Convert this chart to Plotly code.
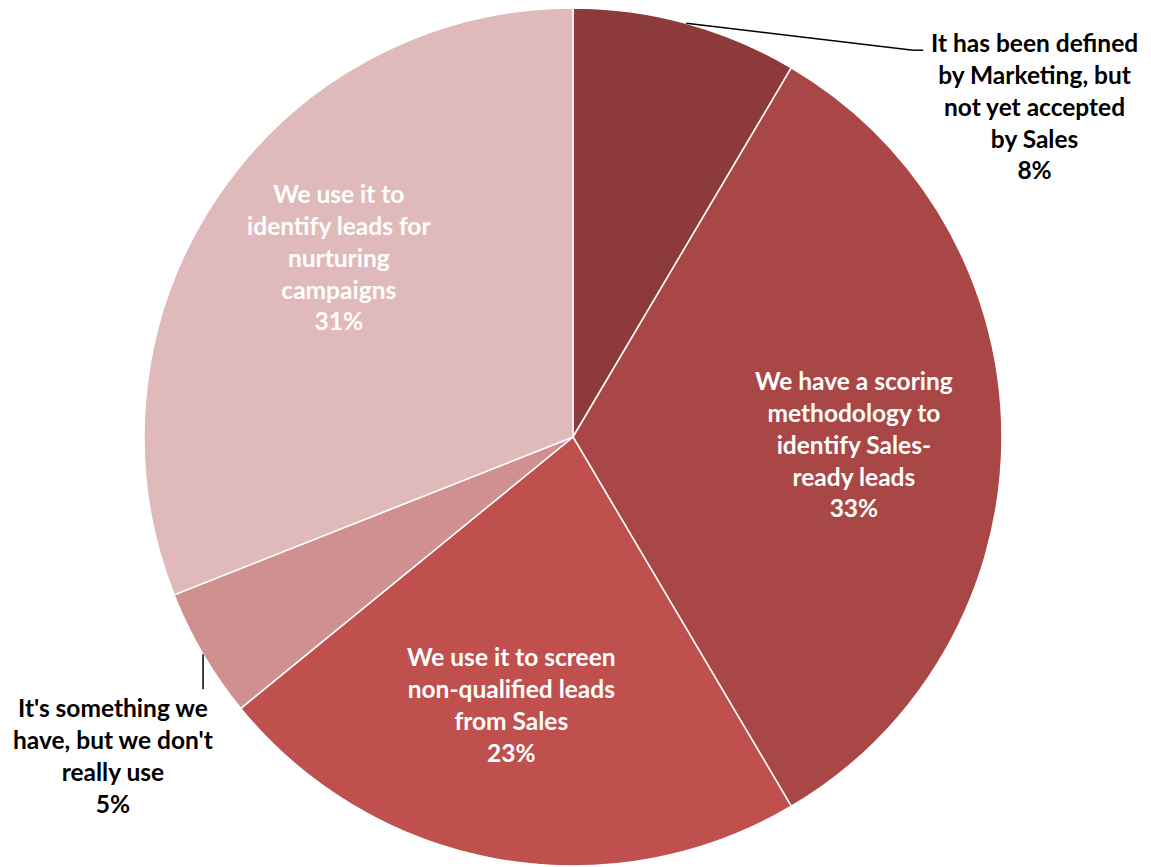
import math
import plotly.graph_objects as go

labels = [
    "It has been defined<br>by Marketing, but<br>not yet accepted<br>by Sales",
    "We have a scoring<br>methodology to<br>identify Sales-<br>ready leads",
    "We use it to screen<br>non-qualified leads<br>from Sales",
    "It's something we<br>have, but we don't<br>really use",
    "We use it to<br>identify leads for<br>nurturing<br>campaigns",
]
values = [8.5, 33.0, 22.6, 4.9, 31.0]
pct_text = ["8%", "33%", "23%", "5%", "31%"]
colors = ["#8C3A3A", "#A94646", "#C0504D", "#D09090", "#E0BABA"]

W, H = 1151, 867
OFF = 8  # page body margin
top_px, bot_px = 8 - OFF, 866 - OFF
R = (bot_px - top_px) / 2
cx, cy = 573 - OFF, top_px + R

fig = go.Figure(go.Pie(
    values=values,
    labels=[l.replace("<br>", " ") for l in labels],
    sort=False,
    direction="clockwise",
    rotation=0,
    marker=dict(colors=colors, line=dict(color="white", width=1.5)),
    textinfo="none",
    hoverinfo="label+percent",
    showlegend=False,
    domain=dict(x=[0, 2 * cx / W], y=[1 - bot_px / H, 1 - top_px / H]),
))

FONT = "Lato"
FS = 24.5

def px2paper(x, y):
    return x / W, 1 - y / H

total = sum(values)
cum = 0
mids = []
for v in values:
    mids.append((cum + v / 2) / total * 2 * math.pi)
    cum += v

annotations = []
shapes = []
inside_frac = {1: 0.655, 2: 0.64, 4: 0.68}
nudge = {1: (0, 7), 2: (-13, -3), 4: (7, -16)}
for i, (lab, pct, a) in enumerate(zip(labels, pct_text, mids)):
    if i in inside_frac:
        f = inside_frac[i]
        x = cx + f * R * math.sin(a) + nudge[i][0]
        y = cy - f * R * math.cos(a) + nudge[i][1]
        px, py = px2paper(x, y)
        annotations.append(dict(
            x=px, y=py, xref="paper", yref="paper", showarrow=False,
            text=f"<b>{lab}<br>{pct}</b>", align="center",
            font=dict(family=FONT, size=FS, color="white"),
            xanchor="center", yanchor="middle",
        ))

# outside label for slice 0
a = mids[0]
ex, ey = cx + R * math.sin(a), cy - R * math.cos(a)
k1 = (ex + 227, ey + 27)
k2 = (k1[0] + 10, k1[1])
for p, q in [((ex, ey), k1), (k1, k2)]:
    x0, y0 = px2paper(*p)
    x1, y1 = px2paper(*q)
    shapes.append(dict(type="line", xref="paper", yref="paper", x0=x0, y0=y0, x1=x1, y1=y1,
                       line=dict(color="black", width=1.5)))
lx, ly = px2paper(k2[0] + 111, k2[1] + 56)
annotations.append(dict(
    x=lx, y=ly, xref="paper", yref="paper", showarrow=False,
    text=f"<b>{labels[0]}<br>{pct_text[0]}</b>", align="center",
    font=dict(family=FONT, size=FS, color="black"),
    xanchor="center", yanchor="middle",
))

# outside label for slice 3
a = mids[3]
ex, ey = cx + R * math.sin(a), cy - R * math.cos(a)
k1 = (ex, ey + 35)
x0, y0 = px2paper(ex, ey)
x1, y1 = px2paper(*k1)
shapes.append(dict(type="line", xref="paper", yref="paper", x0=x0, y0=y0, x1=x1, y1=y1,
                   line=dict(color="black", width=1.5)))
lx, ly = px2paper(ex - 90, k1[1] + 66)
annotations.append(dict(
    x=lx, y=ly, xref="paper", yref="paper", showarrow=False,
    text=f"<b>{labels[3]}<br>{pct_text[3]}</b>", align="center",
    font=dict(family=FONT, size=FS, color="black"),
    xanchor="center", yanchor="middle",
))

fig.update_layout(
    width=W, height=H,
    margin=dict(l=0, r=0, t=0, b=0),
    paper_bgcolor="white",
    annotations=annotations,
    shapes=shapes,
)

fig.write_html("out.html")
